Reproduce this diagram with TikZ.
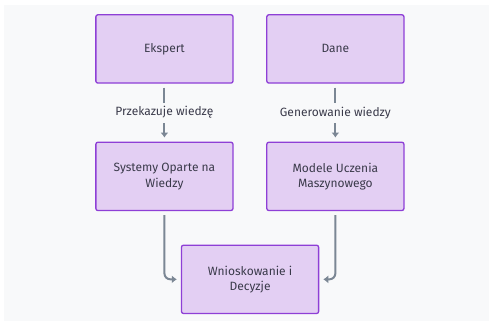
\documentclass[tikz,border=0pt]{standalone}
\usepackage{fontspec}
\setmainfont{Fira Sans}
\usepackage{tikz}
\usetikzlibrary{arrows.meta}
\definecolor{bgcol}{HTML}{F8F9FA}
\definecolor{boxfill}{HTML}{E3CFF3}
\definecolor{boxline}{HTML}{8E3FD6}
\definecolor{flowline}{HTML}{7B8794}
\definecolor{txtcol}{HTML}{3A3A4A}
\tikzset{stepbox/.style={rectangle, draw=boxline, fill=boxfill, line width=1.3pt,
  rounded corners=2pt, minimum width=4.82cm, minimum height=2.4cm,
  align=center, text=txtcol, font=\fontsize{12}{15.5}\selectfont}}
\tikzset{flow/.style={draw=flowline, line width=2pt, -{Latex[length=5pt,width=8pt]},
  shorten <=4pt, shorten >=4pt}}
\tikzset{flowlabel/.style={fill=bgcol, text=txtcol, inner sep=4pt,
  font=\fontsize{12}{14}\selectfont}}

\begin{document}
\begin{tikzpicture}[
]
\useasboundingbox (0,0) rectangle (17.19,-11.28);
\fill [bgcol] (0.14,-0.18) rectangle (17.19,-11.28);

\node [stepbox] (ekspert) at (5.78, -1.72) {Ekspert};
\node [stepbox] (dane) at (11.79, -1.72) {Dane};
\node [stepbox] (systemy) at (5.78, -6.20) {Systemy Oparte na\\Wiedzy};
\node [stepbox] (modele) at (11.79, -6.20) {Modele Uczenia\\Maszynowego};
\node [stepbox] (wnioski) at (8.79, -9.82) {Wnioskowanie i\\Decyzje};

\draw [flow] (ekspert) -- node [flowlabel] {Przekazuje wiedzę} (systemy);
\draw [flow] (dane) -- node [flowlabel] {Generowanie wiedzy} (modele);

\draw [flow, rounded corners=6pt] (systemy.south) |- (wnioski.west);
\draw [flow, rounded corners=6pt] (modele.south) |- (wnioski.east);

\end{tikzpicture}
\end{document}
